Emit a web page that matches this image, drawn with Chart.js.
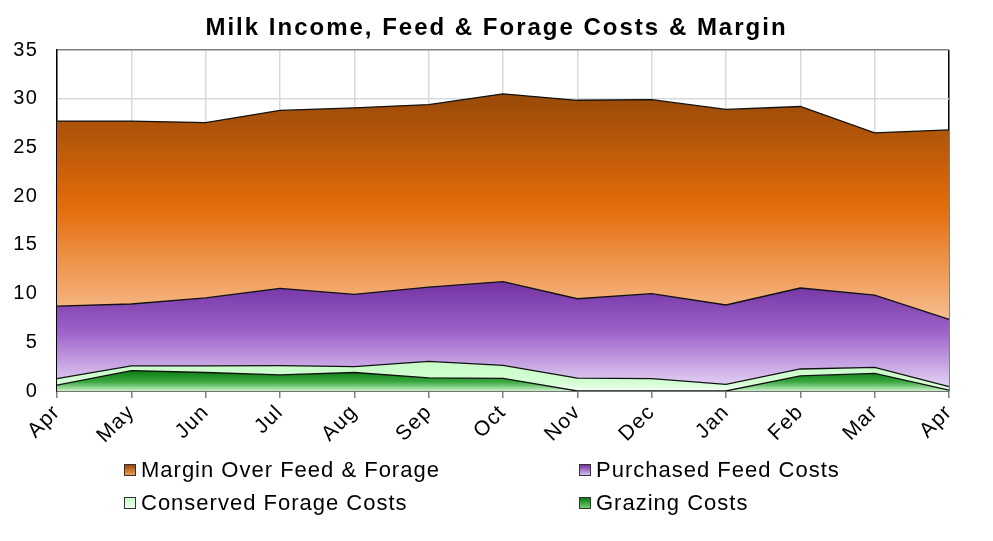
<!DOCTYPE html>
<html>
<head>
<meta charset="utf-8">
<script src="https://cdn.jsdelivr.net/npm/chart.js@4"></script>
<style>
  html, body { margin: 0; padding: 0; background: #fff; }
  #wrap { position: relative; width: 993px; height: 541px; }
  #legend { position: absolute; left: 0; top: 0; width: 993px; height: 541px; pointer-events: none;
            font-family: "Liberation Sans", Arial, sans-serif; font-size: 22px; letter-spacing: 1px; color: #000; }
  .item { position: absolute; display: flex; align-items: center; white-space: nowrap; }
  .box { width: 12px; height: 12px; border: 1px solid #333; margin-right: 5px; box-sizing: border-box; }
</style>
</head>
<body>
<div id="wrap">
  <canvas id="c" width="993" height="541"></canvas>
  <div id="legend"></div>
</div>
<script>
const categories = ["Apr","May","Jun","Jul","Aug","Sep","Oct","Nov","Dec","Jan","Feb","Mar","Apr"];
const grazingCosts    = [0.60, 2.10, 1.90, 1.65, 1.90, 1.35, 1.30, 0.00, 0.00, 0.00, 1.55, 1.80, 0.10];
const conservedForage = [0.67, 0.47, 0.67, 0.95, 0.60, 1.70, 1.33, 1.33, 1.27, 0.68, 0.71, 0.63, 0.34];
const purchasedFeed   = [7.45, 6.36, 6.98, 7.94, 7.42, 7.62, 8.59, 8.14, 8.72, 8.15, 8.31, 7.42, 6.92];
const marginOverFeed  = [18.98, 18.77, 18.00, 18.26, 19.15, 18.73, 19.28, 20.37, 19.91, 20.07, 18.63, 16.65, 19.44];
const yTicks = [0, 5, 10, 15, 20, 25, 30, 35];

const seriesList = [grazingCosts, conservedForage, purchasedFeed, marginOverFeed];
const labels = ["Grazing Costs", "Conserved Forage Costs", "Purchased Feed Costs", "Margin Over Feed & Forage"];
const gradStops = [
  [[0, "#0b7a12"], [0.55, "#3aa83f"], [1, "#c8f0c8"]],
  [[0, "#c8fcc8"], [0.7, "#d2ffd2"], [1, "#f2fff2"]],
  [[0, "#7232a2"], [0.5, "#a066cc"], [1, "#e4d4f4"]],
  [[0, "#984909"], [0.5, "#e36c0a"], [1, "#f8bd8e"]]
];
const legendStops = [
  [[0, "#0b7a12"], [1, "#6fd06f"]],
  [[0, "#c8fcc8"], [1, "#eaffea"]],
  [[0, "#7232a2"], [1, "#d8c0f0"]],
  [[0, "#984909"], [1, "#f39a50"]]
];

const cumTop = [], cumBot = [];
let run = categories.map(() => 0);
seriesList.forEach((s) => {
  cumBot.push(run.slice());
  run = run.map((v, k) => v + s[k]);
  cumTop.push(run.slice());
});

function makeGradient(i) {
  return function(ctx) {
    const chart = ctx.chart;
    const area = chart.chartArea;
    if (!area) return gradStops[i][1][1];
    const ys = chart.scales.y;
    const top = ys.getPixelForValue(Math.max(...cumTop[i]));
    const bot = ys.getPixelForValue(Math.min(...cumBot[i]));
    const g = chart.ctx.createLinearGradient(0, top, 0, Math.max(bot, top + 1));
    gradStops[i].forEach(([o, c]) => g.addColorStop(o, c));
    return g;
  };
}

const datasets = seriesList.map((s, i) => ({
  label: labels[i],
  data: s,
  fill: i === 0 ? "origin" : "-1",
  backgroundColor: makeGradient(i),
  borderColor: "#111",
  borderWidth: 1.3,
  pointRadius: 0,
  tension: 0
}));

const FONT = "'Liberation Sans', Arial, sans-serif";
const TICK_SPACING = "1.2px";
const TITLE_SPACING = "2px";

const spacingPlugin = {
  id: "spacing",
  beforeUpdate(chart) { chart.ctx.letterSpacing = TICK_SPACING; },
  beforeDraw(chart) { chart.ctx.letterSpacing = TICK_SPACING; }
};

const chart = new Chart(document.getElementById("c"), {
  type: "line",
  data: { labels: categories, datasets },
  plugins: [spacingPlugin],
  options: {
    responsive: false,
    animation: false,
    layout: { padding: 0 },
    plugins: {
      legend: { display: false },
      tooltip: { enabled: false },
      title: {
        display: true,
        text: "Milk Income, Feed & Forage Costs & Margin",
        color: "#000",
        font: { family: FONT, size: 24, weight: "bold", lineHeight: 1.2 },
        padding: { top: 14, bottom: 7.2 }
      }
    },
    scales: {
      x: {
        offset: false,
        grid: {
          color: (c) => c.index === categories.length - 1 ? "#000" : "#d9d9d9",
          tickColor: "#808080",
          tickLength: 7,
          lineWidth: 1.5
        },
        border: { color: "#000", width: 1.5 },
        ticks: {
          color: "#000",
          font: { family: FONT, size: 21 },
          maxRotation: 45,
          minRotation: 45,
          padding: 2,
          autoSkip: false
        },
        afterFit: (s) => { s.height = 150; }
      },
      y: {
        stacked: true,
        min: 0,
        max: 35,
        afterBuildTicks: (s) => { s.ticks = yTicks.map(v => ({ value: v })); },
        grid: {
          color: (c) => c.tick && c.tick.value === 35 ? "#808080" : "#d9d9d9",
          drawTicks: false,
          lineWidth: 1.5
        },
        border: { color: "#000", width: 1.5 },
        ticks: {
          color: "#000",
          font: { family: FONT, size: 20 },
          padding: 19
        },
        afterFit: (s) => { s.width = 57; }
      },
      yRightSpace: {
        position: "right",
        display: true,
        min: 0,
        max: 35,
        grid: { display: false, drawTicks: false },
        border: { display: false },
        ticks: { display: false },
        afterFit: (s) => { s.width = 44; }
      }
    }
  }
});

// wider spacing for the title only
if (chart.titleBlock) {
  const origDraw = chart.titleBlock.draw.bind(chart.titleBlock);
  chart.titleBlock.draw = function() {
    const ctx = chart.ctx;
    const prev = ctx.letterSpacing;
    ctx.letterSpacing = TITLE_SPACING;
    origDraw();
    ctx.letterSpacing = prev;
  };
  chart.draw();
}

const legendEl = document.getElementById("legend");
const positions = [
  { i: 3, left: 124, top: 457 },
  { i: 2, left: 579, top: 457 },
  { i: 1, left: 124, top: 490 },
  { i: 0, left: 579, top: 490 }
];
positions.forEach(p => {
  const d = chart.data.datasets[p.i];
  const item = document.createElement("div");
  item.className = "item";
  item.style.left = p.left + "px";
  item.style.top = p.top + "px";
  const box = document.createElement("span");
  box.className = "box";
  box.style.background = "linear-gradient(to bottom, " + legendStops[p.i].map(([o, c]) => c + " " + (o * 100) + "%").join(", ") + ")";
  const txt = document.createElement("span");
  txt.textContent = d.label;
  item.appendChild(box);
  item.appendChild(txt);
  legendEl.appendChild(item);
});
</script>
</body>
</html>
